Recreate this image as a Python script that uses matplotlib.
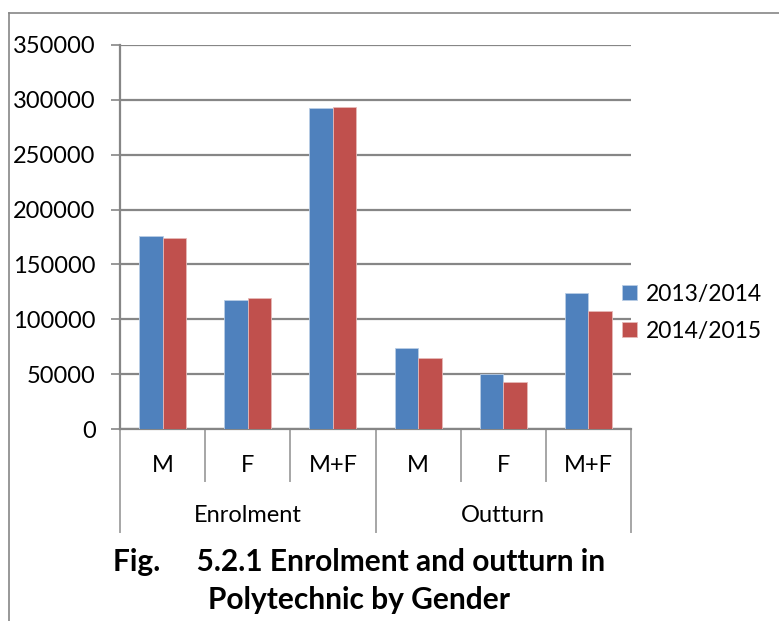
import numpy as np
import matplotlib.pyplot as plt
from matplotlib.lines import Line2D
import matplotlib.transforms as mtransforms

plt.rcParams['font.family'] = ['Lato', 'DejaVu Sans']

sub_labels = ["M", "F", "M+F", "M", "F", "M+F"]
groups = ["Enrolment", "Outturn"]
series = ["2013/2014", "2014/2015"]
y2013 = [175500, 117500, 293000, 74000, 50400, 124400]
y2014 = [173700, 119600, 293300, 65000, 42800, 107800]
yticks = np.arange(0, 350001, 50000)

blue = "#4F81BD"
red = "#C0504D"
grid_c = "#868686"

fig = plt.figure(figsize=(7.79, 6.21), dpi=100)
ax = fig.add_axes([120/779, 1-429/621, 511/779, 384/621])

x = np.arange(len(sub_labels))
w = 0.275
ax.bar(x - w/2, y2013, w, color=blue, label=series[0], edgecolor="#b9cde5", linewidth=0.6, zorder=3)
ax.bar(x + w/2, y2014, w, color=red, label=series[1], edgecolor="#e6b9b8", linewidth=0.6, zorder=3)

ax.set_xlim(-0.5, 5.5)
ax.set_ylim(0, 350000)
ax.set_yticks(yticks)
ax.set_yticklabels([str(v) for v in yticks], fontsize=17)
ax.yaxis.grid(True, color=grid_c, linewidth=1.6)
ax.set_axisbelow(True)
ax.tick_params(axis='y', length=6.5, width=1.2, color=grid_c, pad=11)
ax.set_xticks([])
for s in ["top", "right"]:
    ax.spines[s].set_visible(False)
ax.spines["left"].set_color(grid_c)
ax.spines["left"].set_linewidth(1.6)
ax.spines["bottom"].set_color(grid_c)
ax.spines["bottom"].set_linewidth(1.6)

# category axis (two levels)
tr = mtransforms.blended_transform_factory(ax.transData, ax.transAxes)
for i in range(len(sub_labels) + 1):
    xb = i - 0.5
    low = -0.268 if i % 3 == 0 else -0.135
    ax.add_line(Line2D([xb, xb], [0, low], transform=tr, color="#a6a6a6",
                       linewidth=1.4, clip_on=False))
for i, lab in enumerate(sub_labels):
    ax.text(i, -0.094, lab, transform=tr, ha="center", va="center", fontsize=17)
for g, lab in enumerate(groups):
    ax.text(g*3 + 1, -0.224, lab, transform=tr, ha="center", va="center", fontsize=17)

leg = ax.legend(loc="center left", bbox_to_anchor=(0.982, 0.303), frameon=False,
                fontsize=16.5, handlelength=0.65, handleheight=0.65,
                handletextpad=0.4, labelspacing=0.7, borderpad=0, borderaxespad=0)

# figure title below chart
fig.text(359/779, 1-562/621, "Fig.     5.2.1 Enrolment and outturn in",
         ha="center", va="center", fontsize=21.5, fontweight="bold")
fig.text(359/779, 1-600/621, "Polytechnic by Gender",
         ha="center", va="center", fontsize=21.5, fontweight="bold")

# outer frame (top and left only)
fig.add_artist(Line2D([9/779, 1], [1-13/621, 1-13/621], color=grid_c, linewidth=1.2))
fig.add_artist(Line2D([9/779, 9/779], [0, 1-13/621], color=grid_c, linewidth=1.2))

fig.savefig("out.png", dpi=100)
